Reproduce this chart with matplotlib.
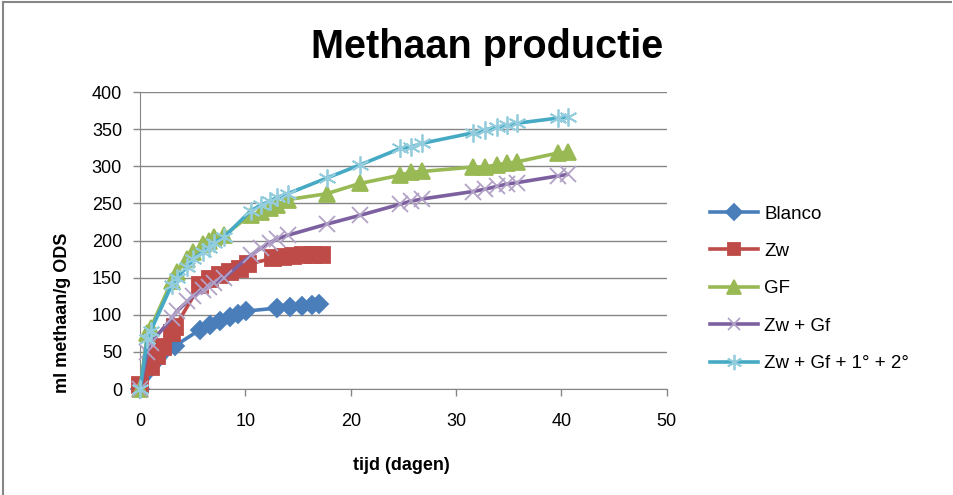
import matplotlib
matplotlib.use('Agg')
import matplotlib.pyplot as plt
from matplotlib.lines import Line2D

plt.rcParams['font.family'] = ['Liberation Sans', 'DejaVu Sans']

# Blanco and Zw were only followed for ~17 days
blanco_t = [0, 3.3, 5.7, 6.6, 7.6, 8.5, 9.3, 10.1, 13.0, 14.2, 15.4, 16.3, 17.0]
blanco_v = [0, 58, 80, 86, 92, 97, 101, 105, 109, 111, 112, 113, 115]

zw_t = [0, 1.0, 1.6, 2.2, 3.0, 3.3, 5.7, 6.6, 7.6, 8.5, 9.5, 10.2,
        12.6, 13.6, 14.5, 15.5, 16.4, 17.3]
zw_v = [5, 30, 45, 57, 75, 83, 140, 148, 154, 158, 162, 168,
        176, 178, 179, 180, 180, 180]

# long series share the same measurement days
long_t = [0, 0.7, 1.0, 3.0, 3.5, 4.5, 5.0, 6.0, 6.5, 7.0, 8.0, 10.5, 11.5,
          12.3, 13.0, 14.0, 17.7, 20.9, 24.7, 25.7, 26.8, 31.6, 32.7, 33.9,
          34.8, 35.8, 39.7, 40.6]
gf_v = [0, 75, 82, 145, 158, 175, 185, 195, 200, 205, 207, 235, 238,
        244, 248, 255, 263, 277, 288, 292, 293, 299, 299, 302,
        304, 306, 318, 319]
zwgf_v = [0, 50, 62, 95, 105, 118, 125, 133, 138, 143, 150, 180, 190,
          197, 202, 207, 222, 234, 249, 253, 256, 266, 269, 273,
          276, 278, 287, 289]
zwgf12_v = [0, 68, 78, 140, 150, 165, 175, 185, 190, 197, 205, 240, 248,
            253, 258, 263, 284, 302, 324, 326, 331, 345, 349, 353,
            355, 358, 365, 367]

labels = ['Blanco', 'Zw', 'GF', 'Zw + Gf', 'Zw + Gf + 1\u00b0 + 2\u00b0']
colors = ['#4A7EBB', '#BE4B48', '#98B954', '#7D60A0', '#46AAC5']
mcolors = ['#4A7EBB', '#BE4B48', '#98B954', '#B3A2C7', '#93CDDD']
markers = ['D', 's', '^', 'x', (6, 2, 0)]
msizes = [9.5, 11, 11.5, 11, 13]

fig = plt.figure(figsize=(9.54, 4.95), dpi=100)
ax = fig.add_axes([0.1468, 0.2141, 0.5522, 0.60])

series = [(blanco_t, blanco_v), (zw_t, zw_v), (long_t, gf_v),
          (long_t, zwgf_v), (long_t, zwgf12_v)]
handles = []
for i, (t, v) in enumerate(series):
    ax.plot(t, v, color=colors[i], lw=2.6, zorder=3 + i, clip_on=False,
            solid_capstyle='round')
    ax.plot(t, v, ls='none', marker=markers[i], ms=msizes[i],
            color=mcolors[i], mec=mcolors[i], mew=1.3, zorder=3 + i,
            clip_on=False)
    handles.append(Line2D([0], [0], color=colors[i], lw=2.6,
                          marker=markers[i], ms=msizes[i] * 0.85,
                          mfc=mcolors[i], mec=mcolors[i], mew=1.3))

ax.set_xlim(0, 50)
ax.set_ylim(0, 400)
ax.set_xticks(range(0, 51, 10))
ax.set_yticks(range(0, 401, 50))
ax.tick_params(axis='both', labelsize=13, colors='#868686',
               labelcolor='black', length=5, width=1)
ax.tick_params(axis='x', pad=12)
ax.tick_params(axis='y', pad=8)
ax.grid(axis='y', color='#868686', lw=1)
ax.set_axisbelow(True)
for s in ['top', 'right']:
    ax.spines[s].set_visible(False)
for s in ['left', 'bottom']:
    ax.spines[s].set_color('#868686')

fig.text(0.511, 0.905, 'Methaan productie', ha='center', va='center',
         fontsize=28.5, fontweight='bold')
fig.text(0.421, 0.06, 'tijd (dagen)', ha='center', va='center',
         fontsize=13, fontweight='bold')
fig.text(0.065, 0.368, 'ml methaan/g ODS', ha='center', va='center',
         rotation=90, fontsize=13, fontweight='bold')

fig.legend(handles, labels, loc='upper left', bbox_to_anchor=(0.736, 0.6),
           frameon=False, fontsize=13.5, handlelength=2.6, handletextpad=0.3,
           labelspacing=1.08, borderaxespad=0)

# chart frame
fig.add_artist(Line2D([0.003, 0.003], [0, 0.995], color='#868686', lw=1.5))
fig.add_artist(Line2D([0.003, 0.997], [0.995, 0.995], color='#868686', lw=1.5))

fig.savefig('out.png', dpi=100)
